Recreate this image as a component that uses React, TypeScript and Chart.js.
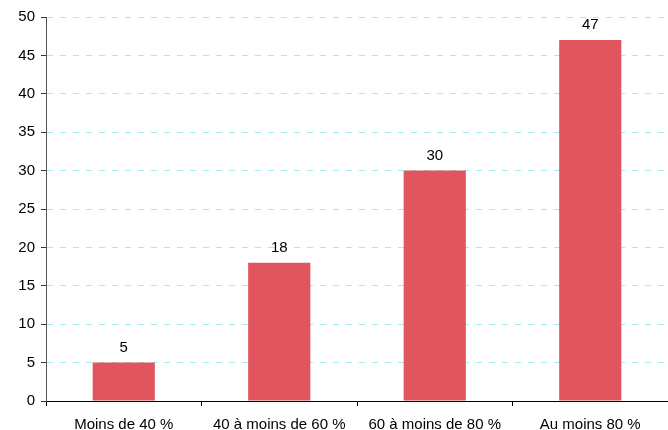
import React, { useEffect, useRef } from "react";
import { Chart, registerables } from "chart.js";

Chart.register(...registerables);

const categories = ["Moins de 40 %", "40 à moins de 60 %", "60 à moins de 80 %", "Au moins 80 %"];
const values = [5, 18, 30, 47];

const FONT = "'Liberation Sans', Arial, sans-serif";

const labelPlugin = {
  id: "barLabels",
  afterDatasetsDraw(chart: any) {
    const ctx = chart.ctx;
    const meta = chart.getDatasetMeta(0);
    ctx.save();
    ctx.fillStyle = "#000";
    ctx.font = `15px ${FONT}`;
    ctx.textAlign = "center";
    ctx.textBaseline = "middle";
    meta.data.forEach((bar: any, i: number) => {
      ctx.fillText(String(values[i]), bar.x, bar.y - 15);
    });
    ctx.restore();
  },
};

export default function App() {
  const ref = useRef<HTMLCanvasElement>(null);
  useEffect(() => {
    const chart = new Chart(ref.current!, {
      type: "bar",
      data: {
        labels: categories,
        datasets: [
          {
            data: values,
            backgroundColor: "#E1565E",
            barPercentage: 0.4,
            categoryPercentage: 1,
          },
        ],
      },
      options: {
        animation: false,
        responsive: false,
        maintainAspectRatio: false,
        layout: { padding: { top: 17, right: 0, left: 0, bottom: 0 } },
        plugins: { legend: { display: false }, tooltip: { enabled: false } },
        scales: {
          x: {
            offset: true,
            grid: {
              offset: true,
              drawOnChartArea: false,
              drawTicks: true,
              tickLength: 5,
              tickColor: "#000",
              tickWidth: 1,
            },
            border: { display: true, color: "#000", width: 1 },
            ticks: { color: "#000", font: { family: FONT, size: 15 }, padding: 10, maxRotation: 0 },
            afterFit: (s: any) => {
              s.height = 29;
            },
          },
          y: {
            min: 0,
            max: 50,
            ticks: { stepSize: 5, color: "#000", font: { family: FONT, size: 15 }, padding: 6 },
            grid: {
              color: "#A6EAF7",
              lineWidth: 1,
              tickColor: "#333",
              tickLength: 5,
              tickBorderDash: [],
              drawTicks: true,
            },
            border: { display: true, color: "#555", width: 1, dash: [6, 7] },
            afterFit: (s: any) => {
              s.width = 46;
            },
          },
        },
      },
      plugins: [labelPlugin],
    });
    return () => chart.destroy();
  }, []);
  return (
    <div style={{ position: "fixed", left: 0, top: 0, width: 668, height: 430, background: "#fff" }}>
      <canvas ref={ref} width={668} height={430} style={{ width: 668, height: 430 }} />
    </div>
  );
}
